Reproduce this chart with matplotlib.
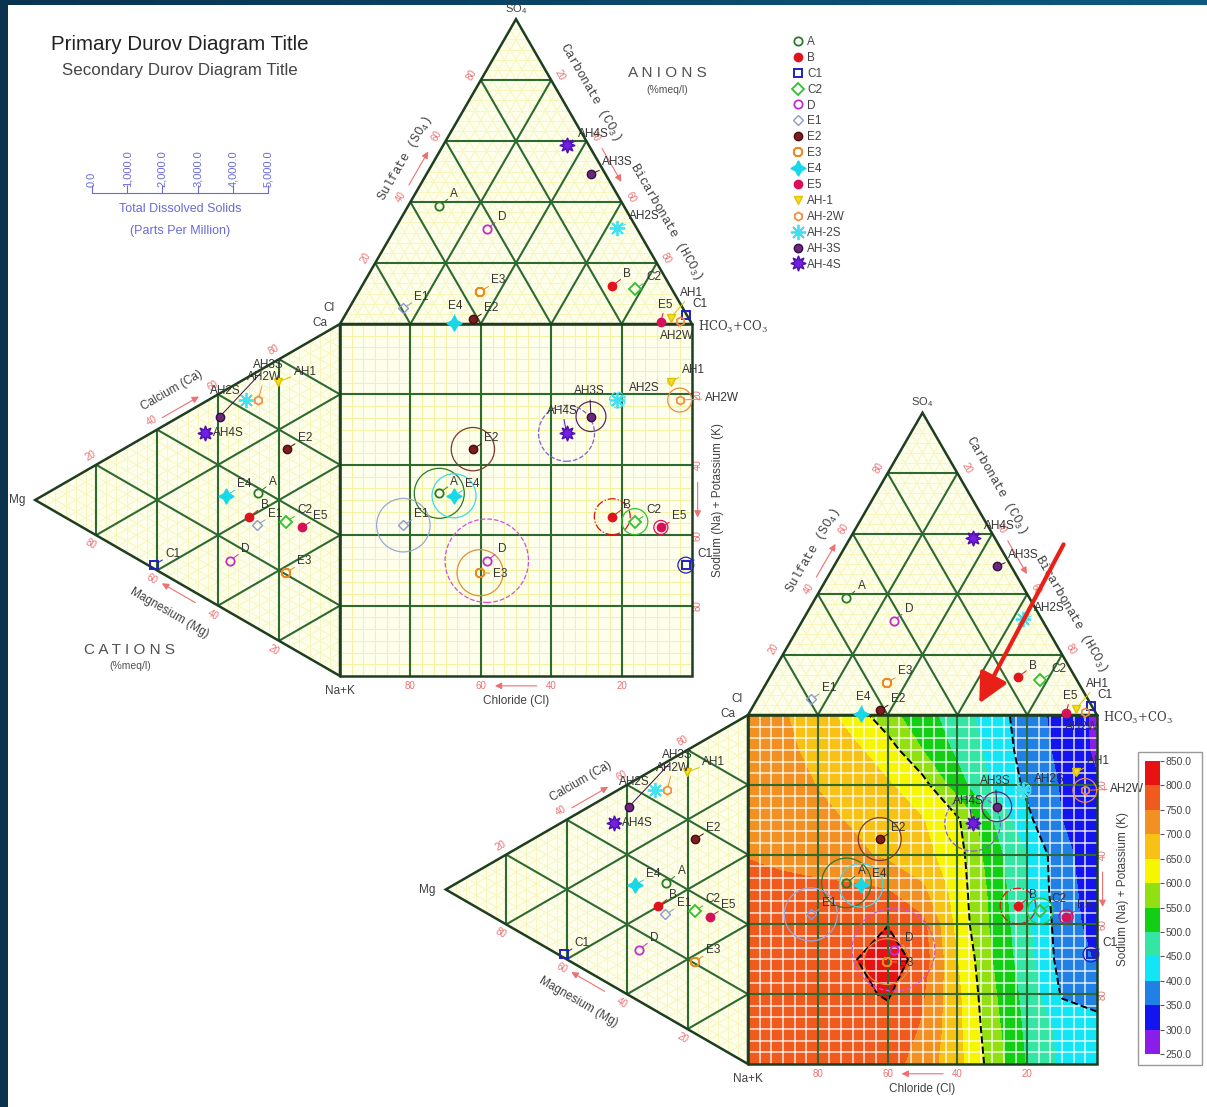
import numpy as np
import matplotlib
matplotlib.use("Agg")
import matplotlib.pyplot as plt
from matplotlib.patches import Circle, Polygon, Rectangle
from matplotlib.collections import LineCollection
from matplotlib.colors import LinearSegmentedColormap
from matplotlib.lines import Line2D

plt.rcParams['font.family'] = ['Liberation Sans', 'DejaVu Sans']
plt.rcParams['mathtext.fontset'] = 'custom'
plt.rcParams['mathtext.rm'] = 'Liberation Sans'
plt.rcParams['mathtext.default'] = 'regular'

# sample chemistry, % meq/l, and total dissolved solids in ppm
names = ["A", "B", "C1", "C2", "D", "E1", "E2", "E3", "E4", "E5",
         "AH-1", "AH-2W", "AH-2S", "AH-3S", "AH-4S"]
tags = ["A", "B", "C1", "C2", "D", "E1", "E2", "E3", "E4", "E5",
        "AH1", "AH2W", "AH2S", "AH3S", "AH4S"]
so4 = [38.8, 12.5, 2.9, 11.5, 31.2, 5.2, 1.5, 10.6, 0.4, 0.7, 1.9, 1.0, 31.6, 49.2, 58.7]
hco3 = [8.8, 71.1, 96.8, 78.0, 26.1, 15.4, 37.0, 34.5, 32.2, 90.8, 93.0, 96.0, 63.0, 46.7, 35.0]
ca = [38.4, 30.4, 1.0, 35.0, 14.7, 29.2, 55.7, 20.5, 32.5, 35.9, 73.5, 65.0, 63.0, 54.0, 46.8]
mg = [27.0, 29.7, 61.0, 17.7, 36.1, 27.3, 17.5, 17.7, 37.4, 12.6, 20.2, 26.8, 30.8, 39.4, 44.3]
tds = [1420, 1020, 450, 740, 2370, 1520, 1230, 1310, 1250, 400, 170, 680, 450, 850, 1590]

# gridded values for the contoured square (rows from Na+K=100 upward)
grid_x = [0, 10, 20, 30, 40, 50, 60, 70, 80, 90, 100]
grid_y = [0, 10, 20, 30, 40, 50, 60, 70, 80, 90, 100]
grid_val = [
    [765, 768, 770, 772, 770, 728, 665, 580, 495, 440, 420],
    [768, 770, 772, 775, 778, 745, 662, 570, 487, 435, 415],
    [770, 772, 776, 788, 805, 755, 660, 560, 480, 395, 385],
    [770, 772, 775, 795, 835, 775, 650, 550, 467, 380, 345],
    [768, 770, 772, 782, 798, 765, 633, 540, 460, 375, 330],
    [762, 763, 762, 758, 750, 708, 627, 535, 450, 370, 325],
    [748, 738, 725, 712, 690, 665, 622, 520, 450, 365, 320],
    [742, 728, 712, 695, 675, 652, 608, 500, 410, 350, 310],
    [742, 722, 698, 675, 655, 620, 520, 446, 390, 345, 305],
    [736, 712, 685, 660, 625, 550, 489, 433, 380, 336, 290],
    [730, 705, 670, 630, 567, 519, 475, 425, 375, 330, 290],
]
levels = [250, 300, 350, 400, 450, 500, 550, 600, 650, 700, 750, 800, 850]
level_colors = ['#8a1ee8', '#1414f0', '#2080e6', '#12e6f6', '#34e6a4', '#12cf14',
                '#92e012', '#f6f600', '#f8c214', '#f29022', '#f05a1c', '#e81212']

tds_ticks = [0, 1000, 2000, 3000, 4000, 5000]

W, H = 1207, 1107
R3 = np.sqrt(3) / 2

marker_style = {
    "A": dict(marker='o', mfc='none', mec='#2a7a2a', ms=6, mew=1.3),
    "B": dict(marker='o', mfc='#e0141e', mec='#e0141e', ms=6),
    "C1": dict(marker='s', mfc='none', mec='#2020c0', ms=6, mew=1.4),
    "C2": dict(marker='D', mfc='none', mec='#30c030', ms=6, mew=1.3),
    "D": dict(marker='o', mfc='none', mec='#c030c8', ms=6, mew=1.3),
    "E1": dict(marker='D', mfc='none', mec='#8c9ad0', ms=5, mew=1.0),
    "E2": dict(marker='o', mfc='#7a1e1e', mec='#4a0e0e', ms=6),
    "E3": dict(marker='8', mfc='none', mec='#e88a20', ms=7, mew=1.5),
    "E4": dict(marker=(4, 1, 0), mfc='#18d8e8', mec='#18d8e8', ms=11),
    "E5": dict(marker='o', mfc='#d8105a', mec='#d8105a', ms=6),
    "AH-1": dict(marker='v', mfc='#f4e020', mec='#e0c000', ms=6),
    "AH-2W": dict(marker='h', mfc='none', mec='#f08a40', ms=6, mew=1.2),
    "AH-2S": dict(marker=(8, 2, 0), mfc='#40e0f0', mec='#40e0f0', ms=11, mew=1.3),
    "AH-3S": dict(marker='o', mfc='#6a2a7a', mec='#3a0a4a', ms=6),
    "AH-4S": dict(marker=(8, 1, 0), mfc='#7020e0', mec='#5010b0', ms=11),
}
ring_style = {
    "A": ('#2a7a2a', '-'), "B": ('#e01010', '-.'), "C1": ('#2020c0', '-'),
    "C2": ('#30c030', '-'), "D": ('#d050d8', '--'), "E1": ('#9aa8d8', '-'),
    "E2": ('#7a3a2a', '-'), "E3": ('#e0903a', '-'), "E4": ('#40d8e8', '-'),
    "E5": ('#d8105a', '-'), "AH-1": ('#e8d030', '-'), "AH-2W": ('#f08a40', '-'),
    "AH-2S": ('#60e0f0', '--'), "AH-3S": ('#5a2a6a', '-'), "AH-4S": ('#8060d0', '--'),
}
label_offsets = {
    ("AH-4S", "sq"): (-14, 12), ("AH-3S", "sq"): (-12, 14), ("E3", "sq"): (9, -5),
    ("AH-2W", "sq"): (18, -3), ("AH-2W", "top"): (-14, -15), ("AH-4S", "left"): (6, -4),
    ("AH-3S", "left"): (24, 33), ("AH-2S", "left"): (-26, 2), ("AH-2W", "left"): (-8, 12),
    ("AH-1", "left"): (11, 3),
    ("E5", "top"): (-2, 8), ("AH-1", "top"): (7, 14), ("C1", "top"): (5, 4),
    ("E4", "top"): (-4, 8),
}

TICK_RED = '#ee7070'
TXT = '#404040'


def anion_xy(s, h):
    return h + s / 2, 100 + R3 * s


def cation_xy(c, m):
    return -R3 * m, c + m / 2


def ternary_lines(vals):
    segs = []
    for k in vals:
        segs.append([anion_xy(k, 0), anion_xy(k, 100 - k)])
        segs.append([anion_xy(0, k), anion_xy(100 - k, k)])
        segs.append([anion_xy(0, 100 - k), anion_xy(100 - k, 0)])
        segs.append([cation_xy(k, 0), cation_xy(k, 100 - k)])
        segs.append([cation_xy(0, k), cation_xy(100 - k, k)])
        segs.append([cation_xy(100 - k, 0), cation_xy(0, 100 - k)])
    return segs


def square_lines(vals):
    segs = []
    for k in vals:
        segs.append([(k, 0), (k, 100)])
        segs.append([(0, k), (100, k)])
    return segs


def along(ax, p, n, d, txt, rot, **kw):
    ax.text(p[0] + n[0] * d, p[1] + n[1] * d, txt, rotation=rot, rotation_mode='anchor',
            ha='center', va='center', **kw)


def arrow(ax, p0, p1):
    ax.annotate('', xy=p1, xytext=p0, annotation_clip=False,
                arrowprops=dict(arrowstyle='-|>,head_length=0.4,head_width=0.2',
                                color=TICK_RED, lw=0.8, shrinkA=0, shrinkB=0))


def draw_durov(ax, contoured, show_names):
    tri_top = [anion_xy(0, 0), anion_xy(0, 100), anion_xy(100, 0)]
    tri_left = [cation_xy(100, 0), cation_xy(0, 100), cation_xy(0, 0)]
    square = [(0, 0), (100, 0), (100, 100), (0, 100)]
    for pts in (tri_top, tri_left, square):
        ax.add_patch(Polygon(pts, closed=True, facecolor='#fefeec', edgecolor='none', zorder=0))

    minor = [k for k in np.arange(1, 30) * 100 / 30 if round(k) % 20]
    ax.add_collection(LineCollection(ternary_lines(minor), colors='#f6f6bc', lw=0.7, zorder=1))
    if contoured:
        cf = ax.contourf(grid_x, grid_y, grid_val, levels=levels, colors=level_colors, zorder=1)
        ax.add_collection(LineCollection(square_lines(minor), colors='white', lw=1.1,
                                         alpha=0.85, zorder=2))
        ax.contour(grid_x, grid_y, grid_val, levels=[400, 600, 800], colors='k',
                   linestyles='--', linewidths=1.4, zorder=3)
    else:
        cf = None
        ax.add_collection(LineCollection(square_lines(minor), colors='#f2f2a4', lw=0.75, zorder=1))

    major = [20, 40, 60, 80]
    ax.add_collection(LineCollection(ternary_lines(major) + square_lines(major),
                                     colors='#2e6a30', lw=1.5, zorder=3))
    for pts in (tri_top, tri_left, square):
        ax.add_patch(Polygon(pts, closed=True, facecolor='none', edgecolor='#1e3e1e',
                             lw=1.8, zorder=4))

    # edge tick labels
    n_tl, n_tr = (-R3, 0.5), (R3, 0.5)
    n_lu, n_ll = (-0.5, R3), (-0.5, -R3)
    for v in major:
        along(ax, anion_xy(v, 0), n_tl, 3, str(v), 60, fontsize=7, color=TICK_RED)
        along(ax, anion_xy(100 - v, v), n_tr, 3, str(v), -60, fontsize=7, color=TICK_RED)
        along(ax, cation_xy(v, 100 - v), n_lu, 3, str(v), 30, fontsize=7, color=TICK_RED)
        along(ax, cation_xy(0, v), n_ll, 3, str(v), -30, fontsize=7, color=TICK_RED)
        ax.text(100 - v, -2.8, str(v), ha='center', va='center', fontsize=7, color=TICK_RED)
        ax.text(101.6, 100 - v, str(v), ha='center', va='center', rotation=90,
                fontsize=7, color=TICK_RED)

    # axis names and direction arrows
    mono = dict(fontsize=9, color=TXT, family='Liberation Mono')
    along(ax, anion_xy(50, 0), n_tl, 7.4, 'Sulfate (SO$_4$)', 60, **mono)
    along(ax, anion_xy(71.4, 28.6), n_tr, 8.1, 'Carbonate (CO$_3$)', -60, **mono)
    along(ax, anion_xy(28.8, 71.2), n_tr, 8.1, 'Bicarbonate (HCO$_3$)', -60, **mono)
    along(ax, cation_xy(49, 51), n_lu, 7.5, 'Calcium (Ca)', 30, fontsize=8.5, color=TXT)
    along(ax, cation_xy(0, 51), n_ll, 8.8, 'Magnesium (Mg)', -30, fontsize=8.5, color=TXT)
    ax.text(50, -7.2, 'Chloride (Cl)', ha='center', va='center', fontsize=8.5, color=TXT)
    ax.text(107.4, 50, 'Sodium (Na) + Potassium (K)', ha='center', va='center',
            rotation=90, fontsize=8.5, color=TXT)

    def off(p, n, d):
        return (p[0] + n[0] * d, p[1] + n[1] * d)
    arrow(ax, off(anion_xy(44, 0), n_tl, 2.8), off(anion_xy(55, 0), n_tl, 2.8))
    arrow(ax, off(anion_xy(56, 44), n_tr, 2.8), off(anion_xy(45, 55), n_tr, 2.8))
    arrow(ax, off(cation_xy(43, 57), n_lu, 2.2), off(cation_xy(55, 45), n_lu, 2.2))
    arrow(ax, off(cation_xy(0, 46), n_ll, 2.5), off(cation_xy(0, 57), n_ll, 2.5))
    arrow(ax, (55.9, -2.8), (44.0, -2.8))
    arrow(ax, (101.6, 55.0), (101.6, 45.0))

    # corner names
    corner = dict(fontsize=8.5, color=TXT)
    ax.text(50, 189.6, 'SO$_4$', ha='center', va='center', fontsize=8, color=TXT)
    ax.text(-1.5, 104.5, 'Cl', ha='right', va='center', **corner)
    ax.text(-3.5, 100.2, 'Ca', ha='right', va='center', **corner)
    ax.text(101.8, 99.2, 'HCO$_3$+CO$_3$', ha='left', va='center', fontsize=8.5,
            color=TXT, family='DejaVu Serif')
    ax.text(0, -2.6, 'Na+K', ha='center', va='top', **corner)
    ax.text(-89.5, 50, 'Mg', ha='right', va='center', **corner)

    if show_names:
        ax.text(92.9, 171.3, 'A N I O N S', ha='center', va='center', fontsize=11, color='#505050')
        ax.text(92.9, 166.5, '(%meq/l)', ha='center', va='center', fontsize=7.5, color='#505050')
        ax.text(-59.7, 7.4, 'C A T I O N S', ha='center', va='center', fontsize=11, color='#505050')
        ax.text(-59.7, 2.8, '(%meq/l)', ha='center', va='center', fontsize=7.5, color='#505050')

    # samples: anion triangle, cation triangle and the projected square point with TDS ring
    tx, ty = anion_xy(np.array(so4), np.array(hco3))
    lx, ly = cation_xy(np.array(ca), np.array(mg))
    for i, name in enumerate(names):
        col, ls = ring_style[name]
        ax.add_patch(Circle((tx[i], ly[i]), tds[i] / 200, fill=False, edgecolor=col,
                            linestyle=ls, lw=0.9, zorder=5))
        for x, y, sec in ((tx[i], ty[i], 'top'), (lx[i], ly[i], 'left'), (tx[i], ly[i], 'sq')):
            ax.plot(x, y, linestyle='none', zorder=7, **marker_style[name])
            ax.annotate(tags[i], (x, y), xytext=label_offsets.get((name, sec), (8, 4)),
                        textcoords='offset points', fontsize=8.5, color='#333333',
                        ha='left', va='bottom', zorder=8, annotation_clip=False,
                        arrowprops=dict(arrowstyle='-', color=marker_style[name]['mec'],
                                        lw=0.7, shrinkA=0, shrinkB=3))
    return cf


def diagram_axes(x0, y0, s):
    # x0, y0: pixel location of the square's Na+K corner, s: pixels per percent
    ax = fig.add_axes([0, 0, 1, 1])
    ax.set_xlim(-x0 / s, (W - x0) / s)
    ax.set_ylim((y0 - H) / s, y0 / s)
    ax.axis('off')
    ax.patch.set_alpha(0)
    return ax


fig = plt.figure(figsize=(W / 100, H / 100), dpi=100)

# page background with the dark frame along the top and left
bg = fig.add_axes([0, 0, 1, 1])
bg.imshow(np.linspace(0, 1, 256)[None, :], aspect='auto', extent=(0, 1, 0, 1),
          cmap=LinearSegmentedColormap.from_list('frame', ['#0a3350', '#0c5a80']))
bg.add_patch(Rectangle((8 / W, 0), 1, 1 - 5 / H, facecolor='white', edgecolor='none'))
bg.set_xlim(0, 1)
bg.set_ylim(0, 1)
bg.axis('off')

ax1 = diagram_axes(340, 676, 3.52)
draw_durov(ax1, contoured=False, show_names=True)

ax2 = diagram_axes(748, 1064, 3.49)
cf = draw_durov(ax2, contoured=True, show_names=False)
ax2.annotate('', xy=(65.9, 102.6), xytext=(90.8, 149.6), annotation_clip=False,
             arrowprops=dict(arrowstyle='-|>,head_length=0.9,head_width=0.45',
                             mutation_scale=20, color='#e82018', lw=3), zorder=10)


def fpos(x, y):
    return x / W, 1 - y / H


fig.text(*fpos(180, 44), 'Primary Durov Diagram Title', ha='center', va='center',
         fontsize=14.8, color='#222222')
fig.text(*fpos(180, 70), 'Secondary Durov Diagram Title', ha='center', va='center',
         fontsize=12.2, color='#444444')

# TDS scale for the ring sizes
blue = '#6a6ad8'
tax = fig.add_axes([92 / W, 1 - 193 / H, 176 / W, 0.0001])
tax.set_xlim(tds_ticks[0], tds_ticks[-1])
tax.set_xticks(tds_ticks)
tax.set_xticklabels([f'{t:,.1f}' for t in tds_ticks])
tax.set_yticks([])
for side in ('top', 'left', 'right'):
    tax.spines[side].set_visible(False)
tax.spines['bottom'].set_color(blue)
tax.tick_params(axis='x', direction='in', length=6, color=blue, bottom=True, top=False,
                labelbottom=False, labeltop=True, labelrotation=90, labelsize=8,
                labelcolor=blue, pad=4)
tax.patch.set_alpha(0)
fig.text(*fpos(180, 209), 'Total Dissolved Solids', ha='center', va='center',
         fontsize=9, color=blue)
fig.text(*fpos(180, 231), '(Parts Per Million)', ha='center', va='center',
         fontsize=9, color=blue)

handles = [Line2D([], [], linestyle='none', **marker_style[n]) for n in names]
leg = fig.legend(handles, names, loc='upper left', bbox_to_anchor=fpos(793, 36),
                 frameon=False, fontsize=8.5, handlelength=0.9, handletextpad=0.3,
                 labelspacing=0.33, borderpad=0, borderaxespad=0)
for t in leg.get_texts():
    t.set_color('#444444')

cax = fig.add_axes([1145 / W, 1 - 1054 / H, 15 / W, 293 / H])
cb = fig.colorbar(cf, cax=cax, ticks=levels, format='%.1f')
cb.outline.set_visible(False)
cax.tick_params(labelsize=7.5, length=3, color='#555555', labelcolor='#444444', pad=1)
fig.patches.append(Rectangle(fpos(1138, 1065), 64 / W, 313 / H, transform=fig.transFigure,
                             facecolor='none', edgecolor='#999999', lw=1, figure=fig))

fig.savefig('out.png', dpi=100)
